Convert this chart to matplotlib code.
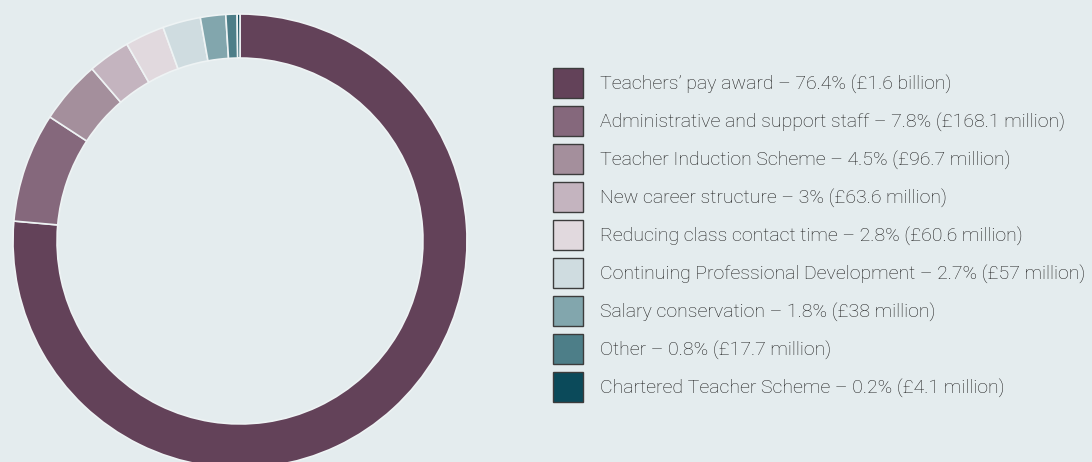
import matplotlib
matplotlib.use('Agg')
from matplotlib import pyplot as plt
from matplotlib.patches import Rectangle

# datos del gráfico
categorias = ["Teachers’ pay award", "Administrative and support staff",
              "Teacher Induction Scheme", "New career structure",
              "Reducing class contact time", "Continuing Professional Development",
              "Salary conservation", "Other", "Chartered Teacher Scheme"]
porcentajes = [76.4, 7.8, 4.5, 3.0, 2.8, 2.7, 1.8, 0.8, 0.2]
etiquetas_pct = ["76.4%", "7.8%", "4.5%", "3%", "2.8%", "2.7%", "1.8%", "0.8%", "0.2%"]
importes = ["£1.6 billion", "£168.1 million", "£96.7 million", "£63.6 million",
            "£60.6 million", "£57 million", "£38 million", "£17.7 million", "£4.1 million"]
colores = ["#634259", "#85687c", "#a48f9c", "#c4b4bf", "#e1d9de",
           "#cfdce0", "#82a6ad", "#4d7e88", "#0b4a5a"]

fondo = "#e4ecee"
W, H = 1092, 462

fig = plt.figure(figsize=(W / 100, H / 100), dpi=100, facecolor=fondo)

# donut
r_px = 227
cx, cy = 240, 462 - 241
ax = fig.add_axes([(cx - r_px) / W, (cy - r_px) / H, 2 * r_px / W, 2 * r_px / H])
ax.set_facecolor(fondo)
ax.pie(porcentajes, colors=colores, startangle=90, counterclock=False, radius=1,
       wedgeprops=dict(width=0.194, edgecolor="#eef3f4", linewidth=1.2))
ax.set_xlim(-1, 1)
ax.set_ylim(-1, 1)
ax.set_aspect('equal')
ax.axis('off')

# leyenda
lx = fig.add_axes([0, 0, 1, 1])
lx.set_xlim(0, W)
lx.set_ylim(H, 0)
lx.axis('off')
for i, (cat, pct, imp, col) in enumerate(zip(categorias, etiquetas_pct, importes, colores)):
    yc = 83 + i * 38
    lx.add_patch(Rectangle((553, yc - 15), 30, 30, facecolor=col,
                           edgecolor="#3c3c3c", linewidth=1))
    lx.text(600, yc + 2, f"{cat} – {pct} ({imp})", va='center', ha='left',
            fontsize=14, color="#1e1e1e", family='Roboto', fontweight='light')

fig.savefig("out.png", dpi=100, facecolor=fondo)
